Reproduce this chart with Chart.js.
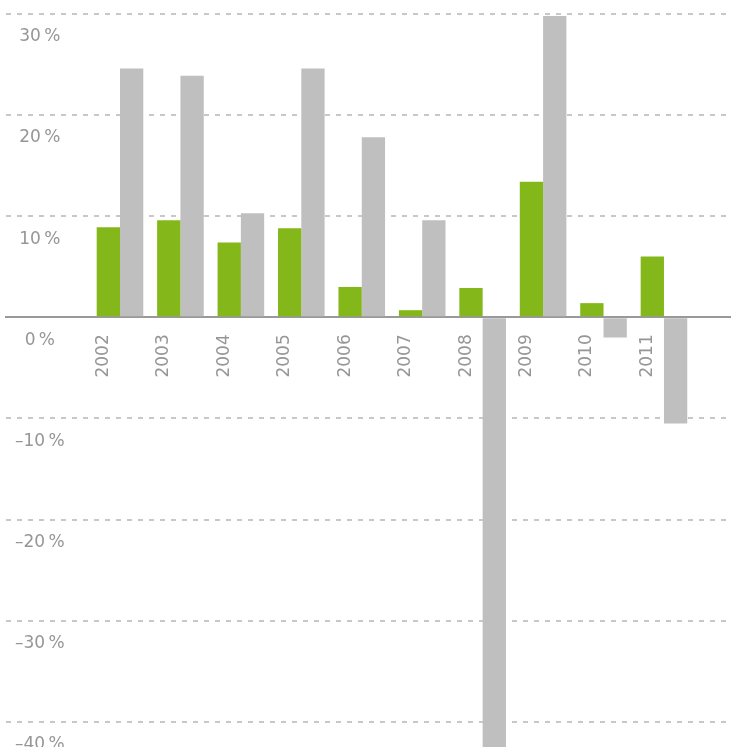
<!DOCTYPE html>
<html>
<head>
<meta charset="utf-8">
<script src="https://cdn.jsdelivr.net/npm/chart.js@4.4.1/dist/chart.umd.min.js"></script>
<style>
  html, body { margin: 0; padding: 0; background: #fff; }
  canvas { display: block; }
</style>
</head>
<body>
<canvas id="growthChart" width="731" height="747"></canvas>
<script>
const years = [2002, 2003, 2004, 2005, 2006, 2007, 2008, 2009, 2010, 2011];
const greenValues = [8.9, 9.6, 7.4, 8.8, 3.0, 0.7, 2.9, 13.4, 1.4, 6.0];
const greyValues = [24.6, 23.9, 10.3, 24.6, 17.8, 9.6, -45, 29.8, -2.0, -10.5];
const yTicks = [-40, -30, -20, -10, 0, 10, 20, 30];

Chart.defaults.font.family = '"DejaVu Sans", sans-serif';
Chart.defaults.font.size = 17;

function formatPercent(value) {
  const num = value < 0 ? '\u2013' + Math.abs(value) : String(value);
  return num + '\u2009%';
}

function toPoints(values) {
  return years.map((year, i) => ({ x: year, y: values[i] }));
}

// labels sit inside the plot, so don't let the axes take room or pad the chart area
function noPadding(scale) {
  scale.paddingTop = 0;
  scale.paddingBottom = 0;
  scale.paddingLeft = 0;
  scale.paddingRight = 0;
  if (!scale.isHorizontal()) scale.width = 0;
}

new Chart(document.getElementById('growthChart'), {
  type: 'bar',
  data: {
    datasets: [
      {
        label: 'Serie 1',
        data: toPoints(greenValues),
        backgroundColor: '#84b71a',
        borderWidth: 0,
        categoryPercentage: 0.771,
        barPercentage: 1
      },
      {
        label: 'Serie 2',
        data: toPoints(greyValues),
        backgroundColor: '#bfbfbf',
        borderWidth: 0,
        categoryPercentage: 0.771,
        barPercentage: 1
      }
    ]
  },
  options: {
    responsive: false,
    animation: false,
    devicePixelRatio: 1,
    layout: { padding: { left: 6, right: 0, top: 0, bottom: 0 } },
    plugins: {
      legend: { display: false },
      tooltip: { enabled: false }
    },
    scales: {
      x: {
        type: 'linear',
        position: { y: 0 },
        offset: false,
        min: 2000.114,
        max: 2012.109,
        afterBuildTicks: scale => { scale.ticks = years.map(value => ({ value })); },
        afterFit: noPadding,
        grid: { display: false, drawTicks: false },
        border: { display: true, color: '#999999', width: 2 },
        ticks: {
          autoSkip: false,
          minRotation: 90,
          maxRotation: 90,
          padding: 17,
          labelOffset: -16.5,
          color: '#969696',
          callback: value => String(value)
        }
      },
      y: {
        min: -42.5,
        max: 31.38,
        afterBuildTicks: scale => { scale.ticks = yTicks.map(value => ({ value })); },
        afterFit: noPadding,
        grid: {
          color: ctx => (ctx.tick && ctx.tick.value === 0 ? 'rgba(0,0,0,0)' : '#c8c8c8'),
          lineWidth: 2,
          drawTicks: false
        },
        border: { display: false, dash: [5, 6] },
        ticks: {
          mirror: true,
          crossAlign: 'center',
          padding: 9,
          labelOffset: 23,
          color: '#969696',
          callback: formatPercent
        }
      }
    }
  }
});
</script>
</body>
</html>
